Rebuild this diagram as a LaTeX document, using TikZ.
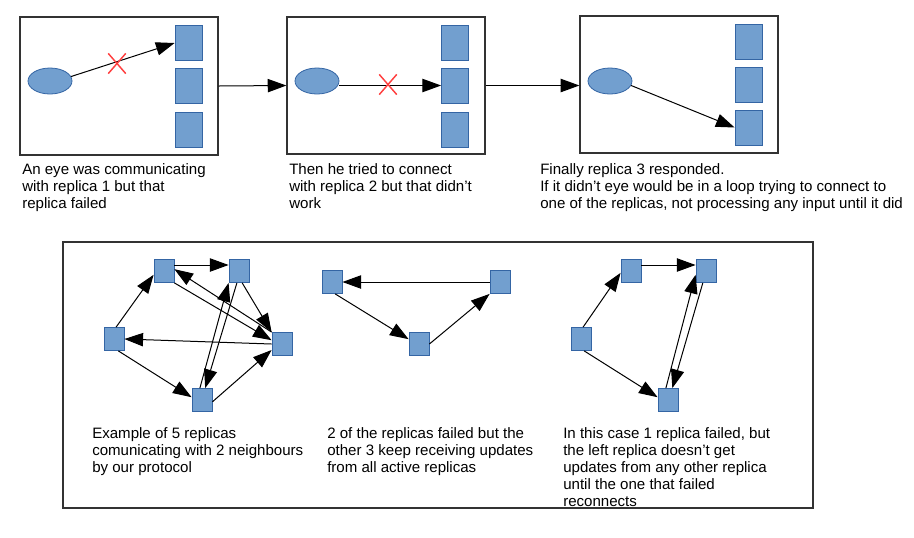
\documentclass[tikz,border=0pt]{standalone}
\usepackage{fontspec}
\setmainfont{Liberation Sans}
\usetikzlibrary{arrows.meta,shapes.geometric,shapes.misc}
\definecolor{rfill}{HTML}{729FCF}
\definecolor{rline}{HTML}{3465A4}
\definecolor{xred}{HTML}{FF4040}
\begin{document}
\begin{tikzpicture}[x=0.75pt,y=-0.75pt,
  frame/.style={draw=black!80,line width=0.9pt,inner sep=0},
  tall/.style={draw=rline,fill=rfill,line width=0.6pt,inner sep=0,minimum width=20.25pt,minimum height=26.25pt},
  sq/.style={draw=rline,fill=rfill,line width=0.6pt,inner sep=0,minimum width=15pt,minimum height=17.25pt},
  eye/.style={ellipse,draw=rline,fill=rfill,line width=0.6pt,inner sep=0,minimum width=33pt,minimum height=19.5pt},
  xmark/.style={cross out,draw=xred,line width=1.1pt,inner sep=0,minimum width=12pt,minimum height=14pt},
  conn/.style={draw=black,line width=0.75pt,-{Triangle[length=14pt,width=10pt]}},
  captxt/.style={anchor=base west,align=left,inner sep=0,font=\fontsize{11.3}{12.75}\selectfont}]
\useasboundingbox (0,0) rectangle (914,537);
% top boxes
\node[frame,minimum width=148.5pt,minimum height=103.5pt] (b1) at (119,86) {};
\node[frame,minimum width=148.5pt,minimum height=102.75pt] (b2) at (386,85.5) {};
\node[frame,minimum width=148.5pt,minimum height=102.75pt] (b3) at (679,84.5) {};
% box 1
\node[eye] (e1) at (50,81) {};
\node[tall] (r11) at (188.5,43) {};
\node[tall] (r12) at (188.5,85.5) {};
\node[tall] (r13) at (188.5,129.5) {};
\draw[conn] (e1.12) -- (r11.west);
\node[xmark] (x1) at (117,63.5) {};
% box 2
\node[eye] (e2) at (317,81) {};
\node[tall] (r21) at (455,43) {};
\node[tall] (r22) at (455,85.5) {};
\node[tall] (r23) at (455,129.5) {};
\draw[conn] (e2.east |- r22.west) -- (r22.west);
\node[xmark] (x2) at (388,84.5) {};
% box 3
\node[eye] (e3) at (610,81) {};
\node[tall] (r31) at (748.5,41.5) {};
\node[tall] (r32) at (748.5,84.5) {};
\node[tall] (r33) at (748.5,127.5) {};
\draw[conn] (e3.-12) -- (r33.west);
% between boxes
\draw[conn] (b1.east) -- (b2.west);
\draw[conn] (b2.east) -- (b2.east -| b3.west);
% captions (anchored at the baseline of the last line)
\node[captxt] (t1) at (22,208) {An eye was communicating\\with replica 1 but that\\replica failed};
\node[captxt] (t2) at (289,208) {Then he tried to connect\\with replica 2 but that didn't\\work};
\node[captxt] (t3) at (540,208) {Finally replica 3 responded.\\If it didn't eye would be in a loop trying to connect to\\one of the replicas, not processing any input until it did};
% bottom frame
\node[frame,minimum width=562.5pt,minimum height=199.5pt] (bf) at (438,375) {};
% graph 1
\node[sq] (A) at (164,271) {};
\node[sq] (B) at (239,271) {};
\node[sq] (C) at (114,339) {};
\node[sq] (D) at (282,344) {};
\node[sq] (E) at (202,400) {};
\draw[conn] (C.80) -- (A.200);
\draw[conn] (A.30) -- (B.150);
\draw[conn] (A.south east) -- (D.160);
\draw[conn] (D.north west) -- (A.10);
\draw[conn] (B.-75) -- (D.north west);
\draw[conn] (D.west) -- (C.east);
\draw[conn] (C.-70) -- (E.165);
\draw[conn] (E.-10) -- (D.-150);
\draw[conn] (E.100) -- (B.south west);
\draw[conn] (B.-100) -- (E.75);
% graph 2
\node[sq] (F) at (332,282) {};
\node[sq] (G) at (500,282) {};
\node[sq] (H) at (419,344) {};
\draw[conn] (G.west) -- (F.east);
\draw[conn] (F.-75) -- (H.155);
\draw[conn] (H.east) -- (G.south west);
% graph 3
\node[sq] (I) at (631,271) {};
\node[sq] (J) at (706,271) {};
\node[sq] (K) at (581,339) {};
\node[sq] (L) at (668,400) {};
\draw[conn] (K.80) -- (I.190);
\draw[conn] (I.30) -- (J.150);
\draw[conn] (K.-75) -- (L.165);
\draw[conn] (L.100) -- (J.200);
\draw[conn] (J.-105) -- (L.70);
% bottom captions
\node[captxt] (t4) at (92,472) {Example of 5 replicas\\comunicating with 2 neighbours\\by our protocol};
\node[captxt] (t5) at (327,472) {2 of the replicas failed but the\\other 3 keep receiving updates\\from all active replicas};
\node[captxt] (t6) at (563,506) {In this case 1 replica failed, but\\the left replica doesn't get\\updates from any other replica\\until the one that failed\\reconnects};
\end{tikzpicture}
\end{document}
